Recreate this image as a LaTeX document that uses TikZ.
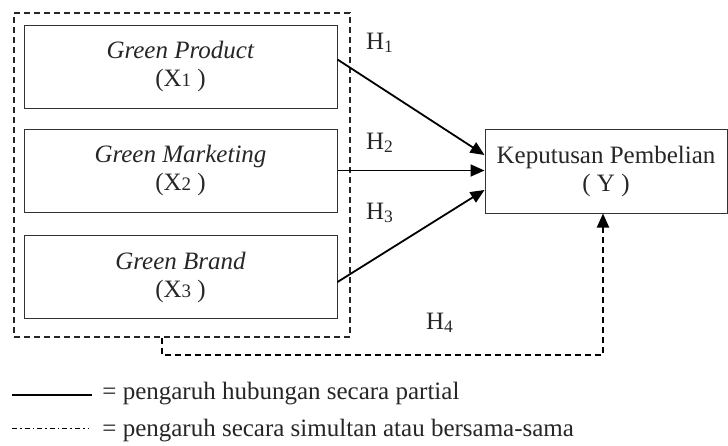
\documentclass[tikz,border=0pt]{standalone}
\usepackage{fontspec}
\setmainfont{Liberation Serif}
\usetikzlibrary{arrows.meta,positioning,calc}
\newcommand{\sx}[1]{{\fontsize{9.5}{9.5}\selectfont #1}}
\begin{document}
\begin{tikzpicture}[x=0.5pt,y=-0.5pt,
              font=\fontsize{12.5}{14}\selectfont,text=black!85,
              var/.style={draw=black!80,line width=0.5pt,minimum width=156.5pt,minimum height=41.5pt,align=center,inner sep=0},
              grp/.style={draw=black!85,line width=0.6pt,dash pattern=on 3pt off 2pt,minimum width=168pt,minimum height=162pt,inner sep=0},
              arr/.style={line width=0.9pt,-{Triangle[length=7pt,width=6pt]}},
              sim/.style={line width=1pt,dash pattern=on 3pt off 2pt,-{Triangle[length=7pt,width=6pt]}},
              lab/.style={inner sep=0}]
              \useasboundingbox (0,0) rectangle (728,445);
              \node[grp] (grp) at (182,175) {};
              \node[var] (x1) at (180.5,66.5) {\textit{Green Product}\\(X\sx{1} )};
              \node[var] (x2) at (180.5,170.5) {\textit{Green Marketing}\\(X\sx{2} )};
              \node[var] (x3) at (180.5,277) {\textit{Green Brand}\\(X\sx{3} )};
              \node[var,minimum width=121pt,minimum height=42pt] (y) at (606,171) {Keputusan Pembelian\\( Y )};
              \draw[arr] ($(x1.east)+(0,-7)$) -- ($(y.west)+(0,-16)$);
              \draw[arr] (x2.east) -- (x2.east -| y.west);
              \draw[arr] ($(x3.east)+(0,5)$) -- ($(y.west)+(0,19)$);
              \coordinate (h4a) at (162,355);
              \draw[sim] (grp.south -| h4a) -- (h4a) -| ($(y.south)+(-3,0)$);
              \node[lab] (h1) at (380,43) {H\textsubscript{1}};
              \node[lab] (h2) at (380,143) {H\textsubscript{2}};
              \node[lab] (h3) at (380,213) {H\textsubscript{3}};
              \node[lab] (h4) at (440,323) {H\textsubscript{4}};
              \coordinate (l1a) at (12,395);
              \coordinate (l1b) at (92,395);
              \coordinate (l2a) at (12,428);
              \coordinate (l2b) at (88,428);
              \draw[line width=0.8pt] (l1a) -- (l1b);
              \draw[line width=0.5pt,dash pattern=on 2.5pt off 1.5pt on 0.8pt off 1.5pt] (l2a) -- (l2b);
              \node[lab,anchor=west] (t1) at (102,394) {= pengaruh hubungan secara partial};
              \node[lab,anchor=west] (t2) at (102,431) {= pengaruh secara simultan atau bersama-sama};
            \end{tikzpicture}
\end{document}
